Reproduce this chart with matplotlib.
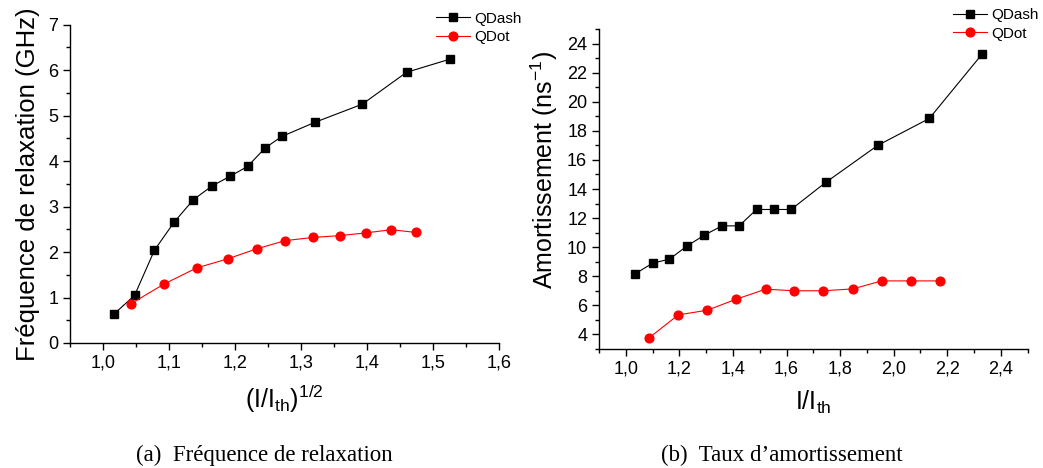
import matplotlib
matplotlib.use("Agg")
import matplotlib.pyplot as plt
from matplotlib.ticker import MultipleLocator, FuncFormatter

plt.rcParams['font.family'] = ['Liberation Sans', 'DejaVu Sans']
plt.rcParams['mathtext.default'] = 'regular'

# Panel (a): relaxation frequency vs (I/Ith)^1/2
a_qdash_x = [1.017, 1.048, 1.078, 1.108, 1.137, 1.165, 1.192, 1.219, 1.246, 1.271, 1.321, 1.393, 1.460, 1.526]
a_qdash_y = [0.64, 1.05, 2.04, 2.66, 3.15, 3.45, 3.66, 3.88, 4.29, 4.54, 4.85, 5.25, 5.95, 6.24]
a_qdot_x = [1.042, 1.093, 1.142, 1.189, 1.233, 1.276, 1.318, 1.359, 1.398, 1.437, 1.474]
a_qdot_y = [0.86, 1.30, 1.65, 1.85, 2.07, 2.25, 2.32, 2.36, 2.42, 2.49, 2.43]

# Panel (b): damping vs I/Ith
b_qdash_x = [1.035, 1.100, 1.163, 1.229, 1.293, 1.359, 1.423, 1.488, 1.553, 1.617, 1.746, 1.940, 2.133, 2.329]
b_qdash_y = [8.16, 8.89, 9.17, 10.08, 10.82, 11.46, 11.46, 12.59, 12.59, 12.59, 14.45, 17.0, 18.86, 23.27]
b_qdot_x = [1.087, 1.196, 1.304, 1.412, 1.522, 1.629, 1.737, 1.847, 1.955, 2.065, 2.173]
b_qdot_y = [3.75, 5.33, 5.65, 6.41, 7.10, 6.99, 6.99, 7.12, 7.67, 7.67, 7.67]

series_labels = ['QDash', 'QDot']
captions = ['(a)  Fréquence de relaxation', '(b)  Taux d\u2019amortissement']

fig = plt.figure(figsize=(10.43, 4.68), dpi=100)
axA = fig.add_axes([0.0671, 0.2671, 0.4113, 0.6805])
axB = fig.add_axes([0.5743, 0.2549, 0.4110, 0.6825])

comma = FuncFormatter(lambda v, p: ('%.1f' % v).replace('.', ','))
intfmt = FuncFormatter(lambda v, p: '%d' % round(v))

def style(ax):
    for s in ['top', 'right']:
        ax.spines[s].set_visible(False)
    for s in ['left', 'bottom']:
        ax.spines[s].set_linewidth(1.0)
    ax.tick_params(which='major', direction='out', length=5, width=1.0, labelsize=13)
    ax.tick_params(which='minor', direction='out', length=2.8, width=1.0)

for ax, (dx, dy, ox, oy) in [(axA, (a_qdash_x, a_qdash_y, a_qdot_x, a_qdot_y)),
                             (axB, (b_qdash_x, b_qdash_y, b_qdot_x, b_qdot_y))]:
    ax.plot(dx, dy, color='black', marker='s', markersize=5.5, linewidth=0.8, label=series_labels[0])
    ax.plot(ox, oy, color='red', marker='o', markersize=6.3, linewidth=0.8, label=series_labels[1])
    style(ax)

axA.set_xlim(0.95, 1.6)
axA.set_ylim(0, 7)
axA.xaxis.set_major_locator(MultipleLocator(0.1))
axA.xaxis.set_minor_locator(MultipleLocator(0.05))
axA.yaxis.set_major_locator(MultipleLocator(1))
axA.yaxis.set_minor_locator(MultipleLocator(0.5))
axA.xaxis.set_major_formatter(comma)
axA.yaxis.set_major_formatter(intfmt)
axA.set_ylabel('Fréquence de relaxation (GHz)', fontsize=18.5, labelpad=6)
axA.set_xlabel(r'$(I/I_{th})^{1/2}$', fontsize=18, labelpad=8)

axB.set_xlim(0.9, 2.5)
axB.set_ylim(3, 25)
axB.xaxis.set_major_locator(MultipleLocator(0.2))
axB.xaxis.set_minor_locator(MultipleLocator(0.1))
axB.yaxis.set_major_locator(MultipleLocator(2))
axB.yaxis.set_minor_locator(MultipleLocator(1))
axB.xaxis.set_major_formatter(comma)
axB.yaxis.set_major_formatter(intfmt)
axB.set_ylabel(r'Amortissement (ns$^{-1}$)', fontsize=18, labelpad=6)
axB.yaxis.set_label_coords(-0.092, 0.56)
axB.set_xlabel(r'$I/I_{th}$', fontsize=18, labelpad=8)

axA.legend(loc='upper left', bbox_to_anchor=(0.84, 1.06), frameon=False, fontsize=11,
           handlelength=2.2, handletextpad=0.3, labelspacing=0.3, borderaxespad=0)
axB.legend(loc='upper left', bbox_to_anchor=(0.812, 1.085), frameon=False, fontsize=11,
           handlelength=2.2, handletextpad=0.3, labelspacing=0.3, borderaxespad=0)

fig.text(0.253, 0.014, captions[0], fontsize=16.5, family='Liberation Serif', ha='center', va='baseline')
fig.text(0.750, 0.014, captions[1], fontsize=16.5, family='Liberation Serif', ha='center', va='baseline')

fig.savefig('out.png', dpi=100)
